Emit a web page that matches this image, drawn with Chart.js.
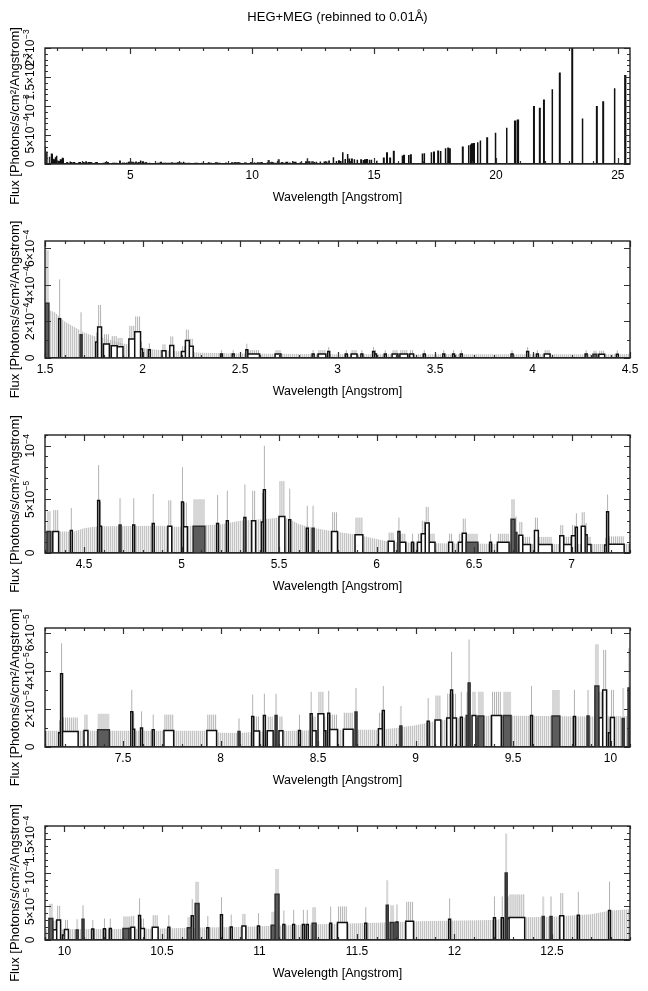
<!DOCTYPE html>
<html>
<head>
<meta charset="utf-8">
<script src="https://cdn.jsdelivr.net/npm/chart.js@4.4.1/dist/chart.umd.min.js"></script>
<style>
  body { margin: 0; background: #fff; }
  #wrap { position: relative; width: 648px; height: 991px; }
  #wrap canvas { position: absolute; left: 0; }
</style>
</head>
<body>
<div id="wrap"></div>
<script>
// flux values are in units of 1e-5 photons/s/cm^2/Angstrom, wavelengths in Angstrom
const FLUX_UNIT = 1e-5;
const BIN = 0.01;

// runs of 0.01 A bins: [start, end, flux, top of error bar]  (black outlined)
const openA = [
  [1.57,1.58,21.5,43],[1.76,1.77,8.7,14],[1.77,1.79,17,29],[1.80,1.83,7.6,13],[1.84,1.87,6.7,12],
  [1.87,1.90,6.2,11],[1.93,1.96,10.4,17.6],[1.96,1.99,14.4,22.7],[1.99,2.00,4.9,9],[2.03,2.04,4.5,8],
  [2.10,2.12,4.0,7.5],[2.14,2.16,6.9,11.8],[2.20,2.22,3.5,6.5],[2.22,2.24,9.6,15.5],[2.24,2.26,6.4,10.5],
  [2.40,2.41,2.2,4.3],[2.46,2.47,2.2,4.3],[2.53,2.54,4.5,7.8],[2.54,2.60,2.2,4.3],[2.68,2.71,2.2,4.3],
  [2.87,2.88,2.2,4.3],[2.90,2.94,2.2,4.3],[2.95,2.96,3.6,6.0],[3.04,3.05,2.2,4.3],[3.07,3.10,2.2,4.3],
  [3.12,3.13,2.2,4.3],[3.18,3.19,3.5,6.0],[3.19,3.20,2.2,4.3],[3.24,3.25,2.2,4.3],[3.28,3.31,2.2,4.3],
  [3.32,3.36,2.2,4.3],[3.37,3.39,2.2,4.3],[3.44,3.45,2.2,4.3],[3.54,3.55,2.2,4.3],[3.59,3.60,2.2,4.3],
  [3.63,3.64,2.2,4.3],[3.89,3.90,2.2,4.3],[3.97,3.98,3.6,6.0],[4.02,4.03,2.2,4.3],[4.06,4.09,2.2,4.3],
  [4.27,4.28,2.2,4.3]
];
const openB = [
  [4.34,4.37,2.0,4.0],[4.43,4.44,2.1,4.2],[4.57,4.58,4.9,8.2],[4.58,4.59,2.5,4.8],[4.75,4.76,2.6,5.1],
  [4.85,4.86,2.75,5.5],[4.93,4.95,2.5,4.9],[5.00,5.01,4.75,8.0],[5.01,5.03,2.45,4.7],[5.18,5.19,2.75,5.4],
  [5.23,5.24,3.0,5.8],[5.32,5.33,3.3,6.4],[5.36,5.38,3.0,5.8],[5.41,5.42,2.9,5.6],[5.42,5.43,5.9,10.0],
  [5.50,5.53,3.4,6.7],[5.55,5.56,3.1,6.0],[5.64,5.65,2.3,4.4],[5.77,5.80,2.0,3.8],[5.89,5.93,1.7,3.3],
  [6.06,6.09,1.1,1.9],[6.11,6.12,2.0,3.3],[6.12,6.15,1.0,1.8],[6.18,6.19,1.0,1.8],[6.21,6.23,1.0,1.8],
  [6.23,6.25,1.8,3.0],[6.25,6.27,2.8,4.3],[6.27,6.30,1.0,1.8],[6.37,6.39,1.0,1.8],[6.42,6.44,1.0,1.8],
  [6.44,6.46,1.85,3.2],[6.58,6.59,1.0,1.8],[6.62,6.68,1.0,1.8],[6.73,6.75,1.65,2.9],[6.75,6.79,0.8,1.5],
  [6.81,6.83,2.1,3.3],[6.83,6.90,0.8,1.5],[6.94,6.96,1.6,2.6],[6.96,7.00,0.8,1.5],[7.00,7.02,1.6,2.6],
  [7.02,7.03,2.4,3.7],[7.05,7.07,2.5,3.8],[7.07,7.08,1.7,2.8],[7.08,7.10,0.8,1.5],[7.17,7.18,0.75,1.4],
  [7.18,7.19,3.85,5.45],[7.19,7.27,0.82,1.55]
];
const openC = [
  [7.30,7.32,0.87,1.7],[7.54,7.55,1.85,3.0],[7.55,7.56,0.93,1.8],[7.59,7.60,1.0,1.87],[7.65,7.66,0.9,1.7],
  [7.71,7.76,0.87,1.7],[7.93,7.98,0.87,1.7],[8.16,8.17,1.6,2.75],[8.17,8.20,0.84,1.6],[8.22,8.23,1.66,2.8],
  [8.24,8.27,0.85,1.6],[8.30,8.32,0.85,1.6],[8.40,8.41,0.87,1.7],[8.46,8.47,1.75,2.9],[8.47,8.49,0.85,1.6],
  [8.50,8.53,1.75,2.9],[8.53,8.54,0.85,1.6],[8.55,8.56,1.77,2.95],[8.56,8.60,0.92,1.7],[8.63,8.68,0.93,1.8],
  [8.81,8.83,0.96,1.8],[8.83,8.84,1.92,3.2],[9.06,9.07,1.35,2.57],[9.10,9.13,1.42,2.7],[9.16,9.18,1.52,2.8],
  [9.18,9.19,3.0,5.0],[9.19,9.21,1.52,2.8],[9.23,9.24,1.56,2.9],[9.29,9.31,1.66,2.9],[9.39,9.44,1.66,2.9],
  [9.59,9.60,1.66,3.2],[9.81,9.82,1.6,3.0],[9.94,9.96,1.54,2.9],[9.96,9.98,3.0,5.1],[9.99,10.00,0.75,1.5],
  [10.00,10.02,1.55,3.0]
];
const openD = [
  [10.14,10.15,1.63,3.0],[10.20,10.21,1.68,3.2],[10.23,10.24,1.7,3.2],[10.33,10.34,1.7,3.5],[10.34,10.36,1.9,3.6],
  [10.38,10.39,3.66,6.2],[10.39,10.41,1.7,3.2],[10.45,10.48,1.9,3.7],[10.53,10.54,1.9,3.7],[10.65,10.66,3.6,6.1],
  [10.73,10.74,1.83,3.6],[10.80,10.81,3.76,6.4],[10.85,10.86,1.93,3.8],[10.91,10.93,2.08,3.9],[10.99,11.00,2.08,4.0],
  [11.12,11.13,2.33,4.4],[11.17,11.18,2.33,4.5],[11.22,11.23,2.33,4.5],[11.24,11.25,2.33,4.5],[11.36,11.37,2.5,5.0],
  [11.40,11.45,2.6,5.0],[11.54,11.55,2.5,4.9],[11.70,11.71,2.7,5.3],[11.75,11.79,2.8,5.7],[11.97,11.98,3.1,6.2],
  [12.20,12.21,3.3,6.5],[12.24,12.25,3.3,6.5],[12.27,12.28,3.2,6.5],[12.28,12.36,3.37,6.8],[12.54,12.56,3.6,7.0],
  [12.63,12.64,3.7,7.2],[12.79,12.80,4.4,8.7]
];
// shaded runs (grey filled)
const darkRuns = [
  [1.50,1.52,30,59],[1.68,1.69,12.7,25],[4.31,4.33,2.0,3.9],[4.68,4.69,2.6,5.1],[5.06,5.12,2.5,5.0],
  [5.67,5.68,2.3,4.4],[6.46,6.52,1.0,1.8],[6.69,6.71,3.15,5.0],[6.71,6.72,1.9,3.4],[7.37,7.43,0.9,1.75],
  [8.09,8.10,0.82,1.5],[8.28,8.29,1.66,2.8],[8.69,8.70,1.84,3.1],[8.92,8.93,1.1,2.15],[9.26,9.27,1.66,2.9],
  [9.27,9.28,3.36,5.65],[9.32,9.35,1.63,2.9],[9.45,9.49,1.66,2.9],[9.70,9.74,1.63,3.0],[9.88,9.89,1.63,3.0],
  [9.92,9.94,3.2,5.4],[10.06,10.07,1.5,3.1],[10.09,10.10,3.1,5.2],[10.30,10.33,1.7,3.5],[10.63,10.65,1.83,3.4],
  [10.67,10.69,5.45,8.7],[11.06,11.08,2.2,4.2],[11.08,11.10,6.83,10.6],[11.27,11.29,2.5,4.9],[11.65,11.66,5.2,8.9],
  [11.67,11.69,2.6,5.2],[12.26,12.27,10.0,15.9],[12.45,12.46,3.5,6.5],[12.49,12.50,3.5,6.5]
];
// long-wavelength lines, only visible in the full-range panel: [start, end, flux]
const linesE = [
  [12.95,12.96,4.5],[13.05,13.06,4.5],[13.15,13.16,4.8],[13.32,13.34,11.6],[13.45,13.46,5.0],[13.55,13.57,5.0],
  [13.62,13.64,5.2],[13.71,13.72,20.3],[13.81,13.82,8.7],[13.91,13.92,17.4],[13.98,13.99,9.3],[14.08,14.10,8.1],
  [14.18,14.20,8.1],[14.30,14.32,7.5],[14.46,14.48,7.0],[14.55,14.57,7.0],[14.62,14.64,7.0],[14.70,14.72,7.2],
  [14.80,14.82,7.2],[14.88,14.90,7.3],[15.10,15.12,5.5],[15.39,15.41,9.9],[15.52,15.54,19.0],[15.65,15.67,9.9],
  [15.80,15.82,21.5],[16.15,16.17,14.5],[16.22,16.24,14.5],[16.41,16.43,15.7],[16.50,16.52,15.7],[16.97,16.99,18.0],
  [17.05,17.07,18.5],[17.34,17.36,20.3],[17.45,17.47,20.3],[17.62,17.64,22.0],[17.72,17.74,22.5],[17.92,17.94,27.0],
  [18.03,18.05,27.0],[18.10,18.12,26.0],[18.63,18.65,29.0],[18.87,18.89,32.5],[18.95,18.97,33.5],[19.01,19.03,34.5],
  [19.09,19.11,35.0],[19.24,19.26,37.7],[19.35,19.37,40.6],[19.63,19.65,44.7],[19.97,19.99,54.0],[20.43,20.45,62.6],
  [20.77,20.80,73.7],[20.88,20.92,75.4],[21.55,21.57,98.6],[21.79,21.81,95.7],[21.96,21.98,110],[22.30,22.32,129],
  [22.61,22.63,156.6],[23.12,23.14,200],[23.54,23.56,78.3],[24.13,24.15,98.6],[24.39,24.41,107],[24.85,24.88,130.5],
  [25.29,25.32,152]
];
// upper error of empty bins: [wavelength, flux]
const envelope = [
  [1.50,27],[1.55,25],[1.60,20],[1.65,17],[1.70,14],[1.75,12],[1.80,11],[1.85,9.5],[1.90,8],[1.95,7],
  [2.00,5.5],[2.05,4.8],[2.10,4.2],[2.20,3.5],[2.30,2.9],[2.50,2.4],[3.00,2.1],[3.50,2.0],[4.00,2.1],[4.30,2.0],
  [4.45,2.0],[4.50,2.3],[4.55,2.45],[4.60,2.5],[4.90,2.55],[4.95,2.45],[5.00,2.45],[5.05,2.55],[5.20,2.65],[5.30,3.0],
  [5.45,3.2],[5.50,3.3],[5.55,3.2],[5.60,2.7],[5.65,2.45],[5.70,2.25],[5.80,1.95],[5.90,1.7],[6.00,1.3],[6.05,1.1],
  [6.10,1.0],[6.30,0.9],[6.70,0.85],[7.20,0.85],[7.95,0.86],[8.00,0.75],[8.10,0.73],[8.20,0.82],[8.60,0.9],[8.80,0.9],
  [8.90,1.0],[9.00,1.14],[9.10,1.35],[9.20,1.5],[9.30,1.6],[9.40,1.66],[9.90,1.6],[10.30,1.65],[10.50,1.7],[10.70,1.85],
  [10.90,1.95],[11.00,2.05],[11.30,2.35],[11.50,2.5],[11.70,2.65],[11.80,2.8],[12.20,3.0],[12.30,3.35],[12.50,3.45],
  [12.70,3.85],[12.80,4.4],[12.90,4.6]
];

// axis ticks
const xTicks1 = [5, 10, 15, 20, 25];
const xTicks2 = [1.5, 2, 2.5, 3, 3.5, 4, 4.5];
const xTicks3 = [4.5, 5, 5.5, 6, 6.5, 7];
const xTicks4 = [7.5, 8, 8.5, 9, 9.5, 10];
const xTicks5 = [10, 10.5, 11, 11.5, 12, 12.5];
const yTicks1 = [0, 5e-4, 1e-3, 1.5e-3, 2e-3];
const yTicks2 = [0, 2e-4, 4e-4, 6e-4];
const yTicks3 = [0, 5e-5, 1e-4];
const yTicks4 = [0, 2e-5, 4e-5, 6e-5];
const yTicks5 = [0, 5e-5, 1e-4, 1.5e-4];

const SPEC_RANGE = [1.5, 25.5];
const FONT = '"Liberation Sans", Arial, Helvetica, sans-serif';
Chart.defaults.font.family = FONT;
Chart.defaults.color = '#000';

const panels = [
  { x: [1.5, 25.5], xTicks: xTicks1, xMinor: 1,   yMax: 2e-3,    yTicks: yTicks1, yMinor: 1e-4, top: 48,  bottom: 164, detail: false },
  { x: [1.5, 4.5],  xTicks: xTicks2, xMinor: 0.1, yMax: 6.4e-4,  yTicks: yTicks2, yMinor: 1e-4, top: 241, bottom: 358, detail: true },
  { x: [4.3, 7.3],  xTicks: xTicks3, xMinor: 0.1, yMax: 1.1e-4,  yTicks: yTicks3, yMinor: 1e-5, top: 435, bottom: 553, detail: true },
  { x: [7.1, 10.1], xTicks: xTicks4, xMinor: 0.1, yMax: 6.25e-5, yTicks: yTicks4, yMinor: 1e-5, top: 628, bottom: 747, detail: true },
  { x: [9.9, 12.9], xTicks: xTicks5, xMinor: 0.1, yMax: 1.7e-4,  yTicks: yTicks5, yMinor: 1e-5, top: 826, bottom: 940, detail: true }
];

const openRuns = [...openA, ...openB, ...openC, ...openD].sort((a, b) => a[0] - b[0]);
const darkSorted = darkRuns.slice().sort((a, b) => a[0] - b[0]);
const openAll = [...openRuns, ...linesE].sort((a, b) => a[0] - b[0]);

// histogram outline: each run is a box standing on the zero line
function outline(runs) {
  const pts = [{ x: SPEC_RANGE[0], y: 0 }];
  runs.forEach(r => {
    const f = r[2] * FLUX_UNIT;
    pts.push({ x: r[0], y: 0 }, { x: r[0], y: f }, { x: r[1], y: f }, { x: r[1], y: 0 });
  });
  pts.push({ x: SPEC_RANGE[1], y: 0 });
  return pts;
}

// one vertical error line per 0.01 A bin
function errorLines(runs) {
  const pts = [];
  runs.forEach(r => {
    if (r[3] == null) return;
    const n = Math.round((r[1] - r[0]) / BIN);
    for (let i = 0; i < n; i++) {
      const c = r[0] + (i + 0.5) * BIN;
      pts.push({ x: c, y: 0 }, { x: c, y: r[3] * FLUX_UNIT }, { x: c, y: null });
    }
  });
  return pts;
}

function hatch(ctx) {
  const c = document.createElement('canvas');
  c.width = 2; c.height = 2;
  const g = c.getContext('2d');
  g.fillStyle = '#ededed'; g.fillRect(0, 0, 2, 2);
  g.fillStyle = '#c4c4c4'; g.fillRect(0, 0, 1, 2);
  return ctx.createPattern(c, 'repeat');
}

function stepValues(min, max, step) {
  const out = [];
  for (let k = Math.ceil(min / step - 1e-6); k * step <= max * (1 + 1e-9); k++) out.push(k * step);
  return out;
}

function labelParts(v) {
  if (v === 0) return ['0', ''];
  const e = Math.floor(Math.log10(v) + 1e-9);
  const m = Math.round(v / Math.pow(10, e) * 10) / 10;
  return [m === 1 ? '10' : m + '\u00d710', '\u2212' + Math.abs(e)];
}

function axesPlugin(p) {
  return {
    id: 'frameAxes',
    afterDraw(chart) {
      const { ctx, chartArea: a } = chart;
      const xs = chart.scales.x, ys = chart.scales.y;
      ctx.save();
      // ticks, pointing inwards on all four sides
      ctx.strokeStyle = '#333';
      ctx.lineWidth = 1.2;
      ctx.beginPath();
      const xt = (v, len) => {
        const px = Math.round(xs.getPixelForValue(v)) + 0.5;
        ctx.moveTo(px, a.bottom); ctx.lineTo(px, a.bottom - len);
        ctx.moveTo(px, a.top); ctx.lineTo(px, a.top + len);
      };
      const yt = (v, len) => {
        const py = Math.round(ys.getPixelForValue(v)) + 0.5;
        ctx.moveTo(a.left, py); ctx.lineTo(a.left + len, py);
        ctx.moveTo(a.right, py); ctx.lineTo(a.right - len, py);
      };
      stepValues(p.x[0], p.x[1], p.xMinor).forEach(v => xt(v, 3));
      p.xTicks.forEach(v => xt(v, 6));
      stepValues(0, p.yMax, p.yMinor).forEach(v => yt(v, 3));
      p.yTicks.forEach(v => yt(v, 6));
      ctx.stroke();
      // frame
      ctx.strokeStyle = '#222';
      ctx.lineWidth = 1.4;
      ctx.strokeRect(a.left, a.top, a.right - a.left, a.bottom - a.top);

      // rotated y tick labels with superscript exponents
      ctx.fillStyle = '#000';
      ctx.textAlign = 'left';
      ctx.textBaseline = 'alphabetic';
      p.yTicks.forEach(v => {
        const [base, exp] = labelParts(v);
        const py = ys.getPixelForValue(v);
        ctx.save();
        ctx.translate(34, py);
        ctx.rotate(-Math.PI / 2);
        ctx.font = '12px ' + FONT;
        const wb = ctx.measureText(base).width;
        ctx.font = '8.5px ' + FONT;
        const we = exp ? ctx.measureText(exp).width + 0.5 : 0;
        const sx = -(wb + we) / 2;
        ctx.font = '12px ' + FONT;
        ctx.fillText(base, sx, 0);
        if (exp) {
          ctx.font = '8.5px ' + FONT;
          ctx.fillText(exp, sx + wb + 0.5, -5);
        }
        ctx.restore();
      });

      // y axis title
      ctx.save();
      ctx.translate(15, (a.top + a.bottom) / 2 + 10);
      ctx.rotate(-Math.PI / 2);
      ctx.font = '13px ' + FONT;
      ctx.textAlign = 'center';
      ctx.textBaseline = 'middle';
      ctx.fillText('Flux [Photons/s/cm\u00b2/Angstrom]', 0, 0);
      ctx.restore();
      ctx.restore();
    }
  };
}

const wrap = document.getElementById('wrap');

panels.forEach((p, i) => {
  const canvas = document.createElement('canvas');
  const cTop = i === 0 ? 0 : p.top - 40;
  canvas.width = 648;
  canvas.height = p.bottom + 50 - cTop;
  canvas.style.top = cTop + 'px';
  wrap.appendChild(canvas);
  const ctx = canvas.getContext('2d');

  const datasets = [];
  if (p.detail) {
    datasets.push({
      data: envelope.map(e => ({ x: e[0], y: e[1] * FLUX_UNIT })),
      fill: 'origin', backgroundColor: hatch(ctx), borderWidth: 0, order: 5
    });
    datasets.push({ data: errorLines(darkSorted), borderColor: '#d6d6d6', borderWidth: 2, order: 4 });
    datasets.push({ data: errorLines(openRuns), borderColor: '#b2b2b2', borderWidth: 1, order: 3 });
  }
  datasets.push({
    data: outline(openAll), fill: 'origin', backgroundColor: '#ffffff',
    borderColor: '#111', borderWidth: 1.5, order: 2
  });
  datasets.push({
    data: outline(darkSorted), fill: 'origin', backgroundColor: '#5c5c5c',
    borderColor: '#2e2e2e', borderWidth: 1.5, order: 1
  });

  new Chart(ctx, {
    type: 'line',
    data: { datasets: datasets },
    options: {
      responsive: false,
      animation: false,
      devicePixelRatio: 1,
      events: [],
      elements: {
        point: { radius: 0, hitRadius: 0 },
        line: { tension: 0, borderJoinStyle: 'miter', borderCapStyle: 'butt' }
      },
      layout: { padding: { top: i === 0 ? 0 : 40, right: 18, bottom: 4, left: 0 } },
      scales: {
        x: {
          type: 'linear', min: p.x[0], max: p.x[1],
          grid: { display: false, drawTicks: false }, border: { display: false },
          afterBuildTicks: s => { s.ticks = p.xTicks.map(v => ({ value: v })); },
          afterFit: s => { s.height = 46; },
          ticks: { autoSkip: false, maxRotation: 0, minRotation: 0, padding: 4,
                   font: { size: 12 }, color: '#000', callback: v => String(v) },
          title: { display: true, text: 'Wavelength [Angstrom]', color: '#000',
                   font: { size: 12.5 }, padding: { top: 0, bottom: 4.5 } }
        },
        y: {
          type: 'linear', min: 0, max: p.yMax,
          grid: { display: false, drawTicks: false }, border: { display: false },
          ticks: { display: false },
          afterFit: s => { s.width = 45; }
        }
      },
      plugins: {
        legend: { display: false },
        tooltip: { enabled: false },
        title: {
          display: i === 0, fullSize: false,
          text: 'HEG+MEG (rebinned to 0.01\u00c5)', color: '#000',
          font: { size: 13, weight: 'normal' },
          padding: { top: 10, bottom: 22.4 }
        }
      }
    },
    plugins: [axesPlugin(p)]
  });
});
</script>
</body>
</html>
